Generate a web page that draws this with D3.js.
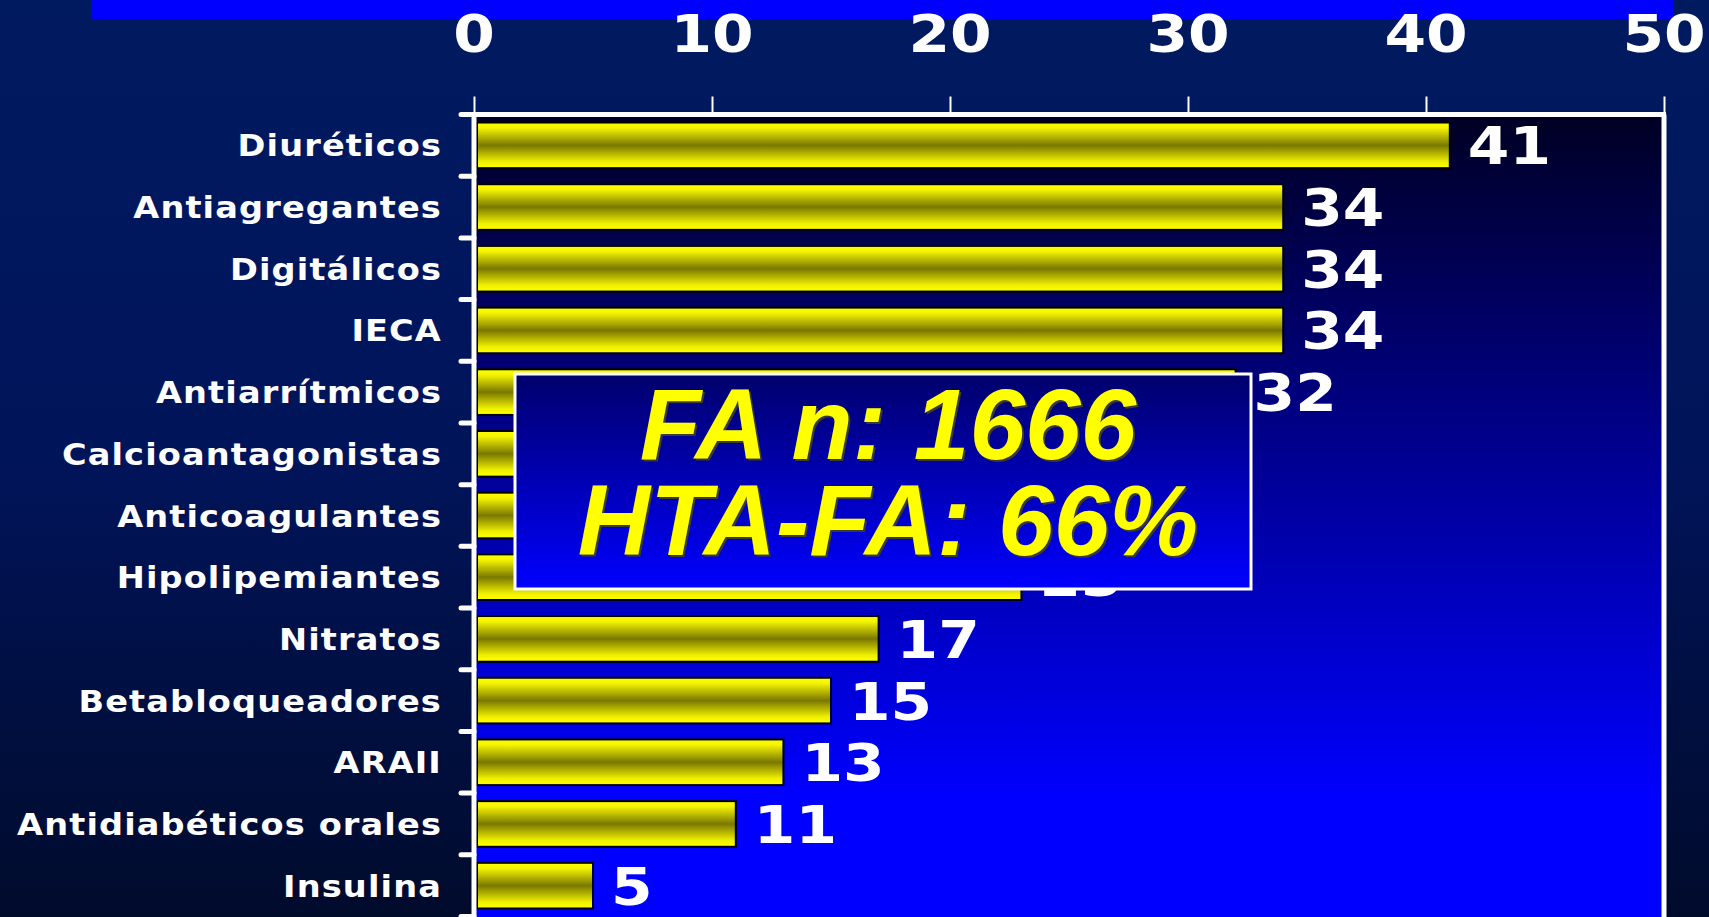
<!DOCTYPE html>
<html>
<head>
<meta charset="utf-8">
<script src="https://cdn.jsdelivr.net/npm/d3@7"></script>
<style>
  html, body { margin: 0; padding: 0; background: #001554; overflow: hidden; }
  svg { display: block; }
</style>
</head>
<body>
<svg id="chart" width="1709" height="917"></svg>
<script>
// ---- data ----
const categories = ["Diuréticos", "Antiagregantes", "Digitálicos", "IECA", "Antiarrítmicos",
  "Calcioantagonistas", "Anticoagulantes", "Hipolipemiantes", "Nitratos", "Betabloqueadores",
  "ARAII", "Antidiabéticos orales", "Insulina"];
const values = [41, 34, 34, 34, 32, 28, 25, 23, 17, 15, 13, 11, 5];
const tickValues = [0, 10, 20, 30, 40, 50];
const boxLines = ["FA n: 1666", "HTA-FA: 66%"];

// ---- layout ----
const W = 1709, H = 917;
const plot = { left: 474, right: 1664, top: 114.5, bottom: 916.5 };

const svg = d3.select("#chart");
const defs = svg.append("defs");

function vGrad(id, stops) {
  const g = defs.append("linearGradient").attr("id", id)
    .attr("x1", 0).attr("y1", 0).attr("x2", 0).attr("y2", 1);
  stops.forEach(([o, c]) => g.append("stop").attr("offset", o).attr("stop-color", c));
}
vGrad("pageBg", [[0, "#001a60"], [0.5, "#00145a"], [1, "#000b2c"]]);
vGrad("plotBg", [[0, "#000024"], [0.85, "#0000ff"], [1, "#0000ff"]]);
vGrad("barFill", [[0, "#ffff00"], [0.12, "#f4f400"], [0.5, "#7a7800"], [0.86, "#f0f000"], [1, "#ffff00"]]);
vGrad("boxBg", [[0, "#00006c"], [1, "#0000ff"]]);

// page background
svg.append("rect").attr("x", 0).attr("y", 0).attr("width", W).attr("height", H).attr("fill", "url(#pageBg)");
// top blue strip
svg.append("rect").attr("x", 91.5).attr("y", 0).attr("width", 1673 - 91.5).attr("height", 19).attr("fill", "#0000ff");

// scales
const x = d3.scaleLinear().domain([0, 50]).range([plot.left, plot.right]);
const y = d3.scaleBand().domain(categories).range([plot.top, plot.bottom])
  .paddingInner(0.26).paddingOuter(0.13);

// plot background
svg.append("rect").attr("x", plot.left).attr("y", plot.top)
  .attr("width", plot.right - plot.left).attr("height", H - plot.top + 2)
  .attr("fill", "url(#plotBg)");

// bars
svg.append("g").selectAll("rect").data(values).join("rect")
  .attr("x", x(0) + 3)
  .attr("y", (d, i) => y(categories[i]))
  .attr("width", d => x(d) - x(0) - 3)
  .attr("height", y.bandwidth())
  .attr("fill", "url(#barFill)")
  .attr("stroke", "#000")
  .attr("stroke-width", 2);

// value labels
const bigFont = "'DejaVu Sans', Verdana, sans-serif";
svg.append("g").selectAll("text").data(values).join("text")
  .attr("transform", (d, i) => `translate(${x(d) + 18},${y(categories[i]) + y.bandwidth() / 2 + 19}) scale(1.15,1)`)
  .attr("font-family", bigFont).attr("font-weight", "bold").attr("font-size", 52)
  .attr("fill", "#fff")
  .text(d => d);

// top axis
const topAxis = svg.append("g").attr("transform", `translate(0,${plot.top})`)
  .call(d3.axisTop(x).tickValues(tickValues).tickSize(18).tickFormat(""));
topAxis.select(".domain").remove();
topAxis.selectAll(".tick line").attr("stroke", "#fff").attr("stroke-width", 2);

svg.append("g").selectAll("text").data(tickValues).join("text")
  .attr("transform", d => `translate(${x(d)},52) scale(1.15,1)`)
  .attr("text-anchor", "middle")
  .attr("font-family", bigFont).attr("font-weight", "bold").attr("font-size", 52)
  .attr("fill", "#fff")
  .text(d => d);

// frame: top and right
svg.append("line").attr("x1", plot.left - 2).attr("x2", plot.right + 2)
  .attr("y1", plot.top).attr("y2", plot.top).attr("stroke", "#fff").attr("stroke-width", 5);
svg.append("line").attr("x1", plot.right).attr("x2", plot.right)
  .attr("y1", plot.top).attr("y2", H + 2).attr("stroke", "#fff").attr("stroke-width", 5);

// left axis with ticks at band boundaries
const step = y.step();
const y0 = y.range()[0];
const boundaries = d3.range(categories.length + 1).map(i => y0 + i * step);
svg.append("g").selectAll("line").data(boundaries).join("line")
  .attr("x1", 461).attr("x2", plot.left)
  .attr("y1", d => d).attr("y2", d => d)
  .attr("stroke", "#fff").attr("stroke-width", 5).attr("stroke-linecap", "round");
svg.append("line").attr("x1", plot.left).attr("x2", plot.left)
  .attr("y1", plot.top - 2).attr("y2", H + 2).attr("stroke", "#fff").attr("stroke-width", 5);

// category labels
svg.append("g").selectAll("text").data(categories).join("text")
  .attr("transform", d => `translate(442,${y(d) + y.bandwidth() / 2 + 11}) scale(1.12,1)`)
  .attr("text-anchor", "end")
  .attr("font-family", bigFont).attr("font-weight", "bold").attr("font-size", 30)
  .attr("letter-spacing", 1)
  .attr("fill", "#fff")
  .text(d => d);

// annotation box
const box = { x: 515, y: 374, w: 1251 - 515, h: 589 - 374 };
svg.append("rect").attr("x", box.x).attr("y", box.y).attr("width", box.w).attr("height", box.h)
  .attr("fill", "url(#boxBg)").attr("stroke", "#fff").attr("stroke-width", 3);
const boxFont = "'Liberation Sans', Arial, sans-serif";
const boxBase = [459, 555];
const bt = svg.append("g");
boxLines.forEach((t, i) => {
  bt.append("text").attr("x", 888 + 2).attr("y", boxBase[i] + 2)
    .attr("text-anchor", "middle").attr("font-family", boxFont)
    .attr("font-weight", "bold").attr("font-style", "italic").attr("font-size", 100)
    .attr("fill", "#3a3a30").text(t);
  bt.append("text").attr("x", 888).attr("y", boxBase[i])
    .attr("text-anchor", "middle").attr("font-family", boxFont)
    .attr("font-weight", "bold").attr("font-style", "italic").attr("font-size", 100)
    .attr("fill", "#ffff00").text(t);
});
</script>
</body>
</html>
